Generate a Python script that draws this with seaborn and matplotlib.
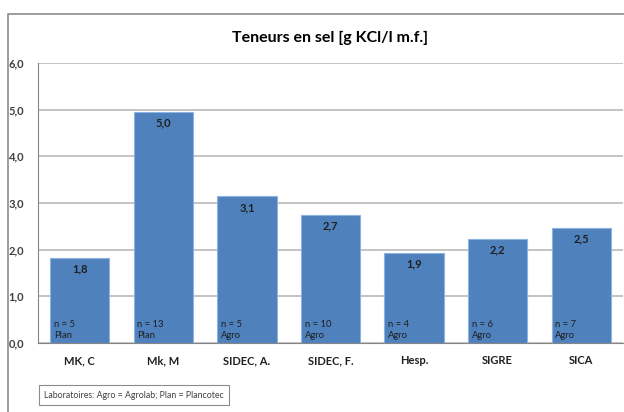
import matplotlib
matplotlib.use("Agg")
import matplotlib.pyplot as plt
import seaborn as sns
import numpy as np
from matplotlib.patches import Rectangle

# Données du graphique
laboratoires = ["MK, C", "Mk, M", "SIDEC, A.", "SIDEC, F.", "Hesp.", "SIGRE", "SICA"]
teneurs = [1.83, 4.96, 3.14, 2.74, 1.93, 2.23, 2.47]
n_echant = [5, 13, 5, 10, 4, 6, 7]
labo_analyse = ["Plan", "Plan", "Agro", "Agro", "Agro", "Agro", "Agro"]
y_ticks = [0, 1, 2, 3, 4, 5, 6]

sns.set_style("white")
plt.rcParams["font.family"] = ["Lato", "DejaVu Sans"]

fig = plt.figure(figsize=(6.24, 4.12), dpi=100)
ax = fig.add_axes([38 / 624, 69 / 412, 585 / 624, 280 / 412])

bleu = "#4F81BD"
sns.barplot(x=laboratoires, y=teneurs, color=bleu, width=0.71, ax=ax,
            edgecolor="#8DB3E2", linewidth=0.8, saturation=1, zorder=3)

ax.set_ylim(0, 6)
ax.set_xlim(-0.5, len(laboratoires) - 0.5)
ax.set_yticks(y_ticks)
ax.set_yticklabels([f"{v:.1f}".replace(".", ",") for v in y_ticks],
                   fontsize=8, fontweight="bold", color="#404040")
ax.set_xticks(range(len(laboratoires)))
ax.set_xticklabels(laboratoires, fontsize=8, fontweight="bold", color="#202020")
ax.set_xticks(np.arange(-0.5, len(laboratoires), 1), minor=True)
ax.tick_params(axis="x", which="major", length=0, pad=9)
ax.tick_params(axis="x", which="minor", length=4, color="#868686", width=0.8, direction="out")
ax.tick_params(axis="y", length=4, color="#868686", width=0.8, direction="out", pad=6)
ax.yaxis.grid(True, color="#BFBFBF", linewidth=1.3, zorder=0)
ax.set_axisbelow(True)
for s in ["top", "right"]:
    ax.spines[s].set_visible(False)
for s in ["left", "bottom"]:
    ax.spines[s].set_color("#868686")
    ax.spines[s].set_linewidth(0.8)

# Étiquettes de valeur et nombre d'échantillons
for i, (v, n, lab) in enumerate(zip(teneurs, n_echant, labo_analyse)):
    ax.text(i, v - 0.12, f"{v:.1f}".replace(".", ","), ha="center", va="top",
            fontsize=8, fontweight="bold", color="#1F1F1F", zorder=4)
    ax.text(i - 0.31, 0.06, f"n = {n}\n{lab}", ha="left", va="bottom",
            fontsize=6.8, color="#1F1F1F", linespacing=1.3, zorder=4)

ax.set_title("Teneurs en sel [g KCl/l m.f.]", fontsize=11.5, fontweight="bold",
             pad=15, color="black")

# Cadre du graphique et légende
fig.patches.append(Rectangle((8 / 624, -0.1), 1.2, (412 - 14) / 412 + 0.1,
                             transform=fig.transFigure, fill=False,
                             edgecolor="#8C8C8C", linewidth=1.2))
fig.text(44 / 624, 17 / 412, "Laboratoires: Agro = Agrolab; Plan = Plancotec",
         fontsize=6.3, color="#404040", va="center", ha="left",
         bbox=dict(boxstyle="square,pad=0.6", facecolor="white",
                   edgecolor="#8C8C8C", linewidth=0.8))

fig.savefig("out.png", dpi=100)
